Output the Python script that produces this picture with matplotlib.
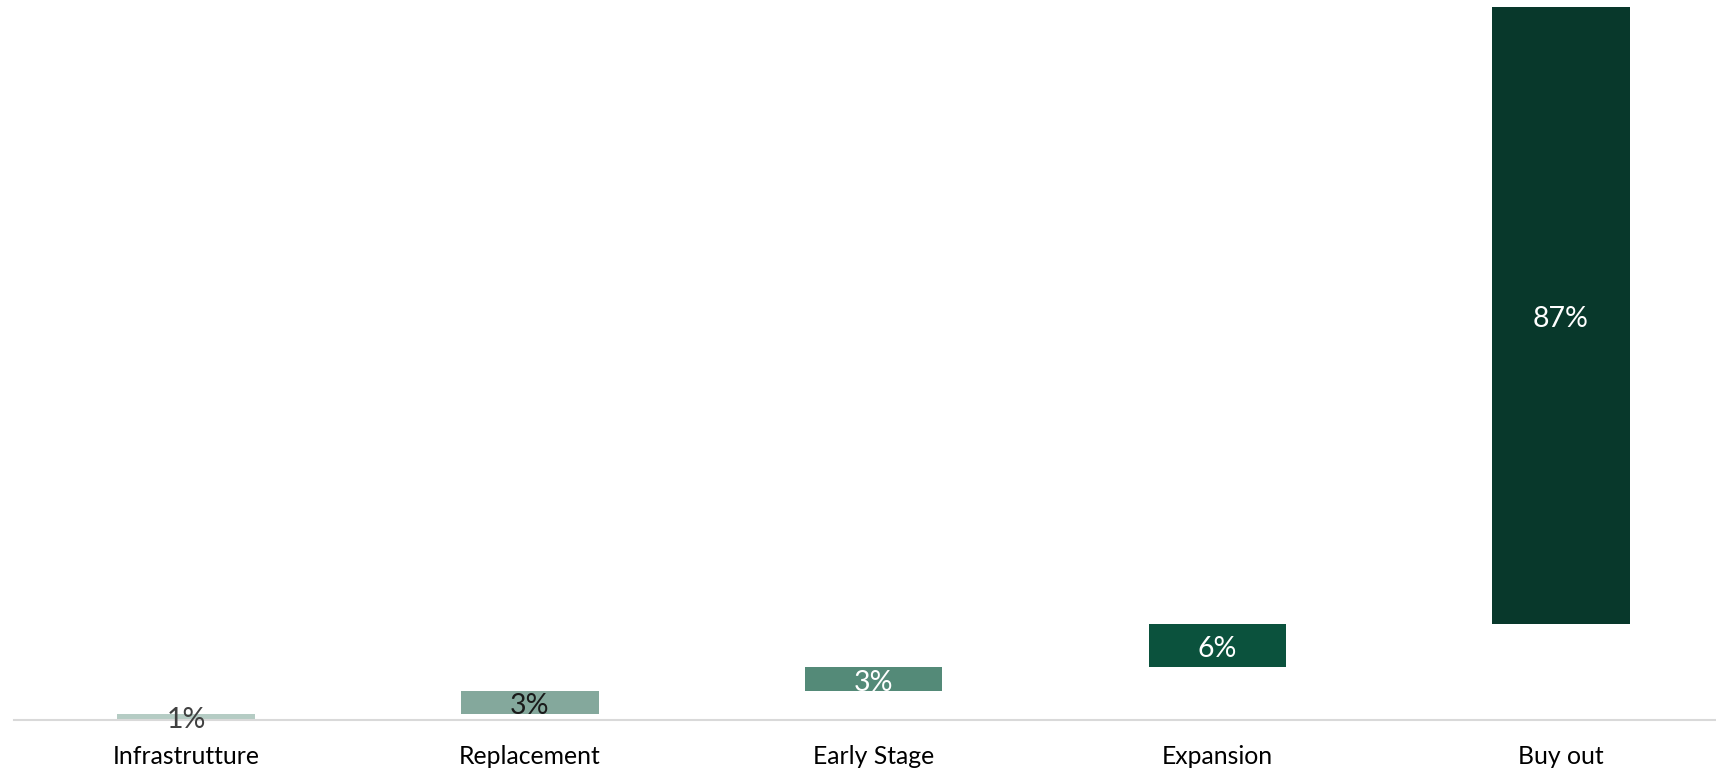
import matplotlib
matplotlib.use("Agg")
import matplotlib.pyplot as plt
import numpy as np

categories = ["Infrastrutture", "Replacement", "Early Stage", "Expansion", "Buy out"]
values = [0.9, 3.1, 3.4, 6.1, 86.5]
value_labels = ["1%", "3%", "3%", "6%", "87%"]
bar_colors = ["#B5CCC4", "#84A89C", "#548A78", "#0B523D", "#08382B"]
label_colors = ["#404040", "#1a1a1a", "#FFFFFF", "#FFFFFF", "#FFFFFF"]

plt.rcParams['font.family'] = ['Lato', 'DejaVu Sans']

W, H = 1716, 772
fig = plt.figure(figsize=(W / 100, H / 100), dpi=100)
left_px, bottom_px, top_px = 14.3, 52, 6.7
ax = fig.add_axes([left_px / W, bottom_px / H, 1 - left_px / W, (H - bottom_px - top_px) / H])

x = np.arange(len(categories))
bottoms = np.concatenate([[0], np.cumsum(values)[:-1]])
ax.bar(x, values, bottom=bottoms, width=0.40, color=bar_colors, linewidth=0)

for xi, b, v, lab, c in zip(x, bottoms, values, value_labels, label_colors):
    ax.annotate(lab, (xi, b + v / 2), xytext=(0, -2.5), textcoords="offset points",
                ha="center", va="center", color=c, fontsize=20.5)

ax.set_xlim(-0.5, -0.5 + (W - left_px) / 343.7)
ax.set_ylim(0, 100)
ax.set_xticks(x)
ax.set_xticklabels(categories, fontsize=17.8, color="#000000")
ax.tick_params(axis="x", length=0, pad=18)
ax.set_yticks([])
for s in ["top", "right", "left"]:
    ax.spines[s].set_visible(False)
ax.spines["bottom"].set_color("#D9D9D9")
ax.spines["bottom"].set_linewidth(1.5)
ax.set_facecolor("white")
fig.patch.set_facecolor("white")

fig.savefig("out.png", dpi=100)
